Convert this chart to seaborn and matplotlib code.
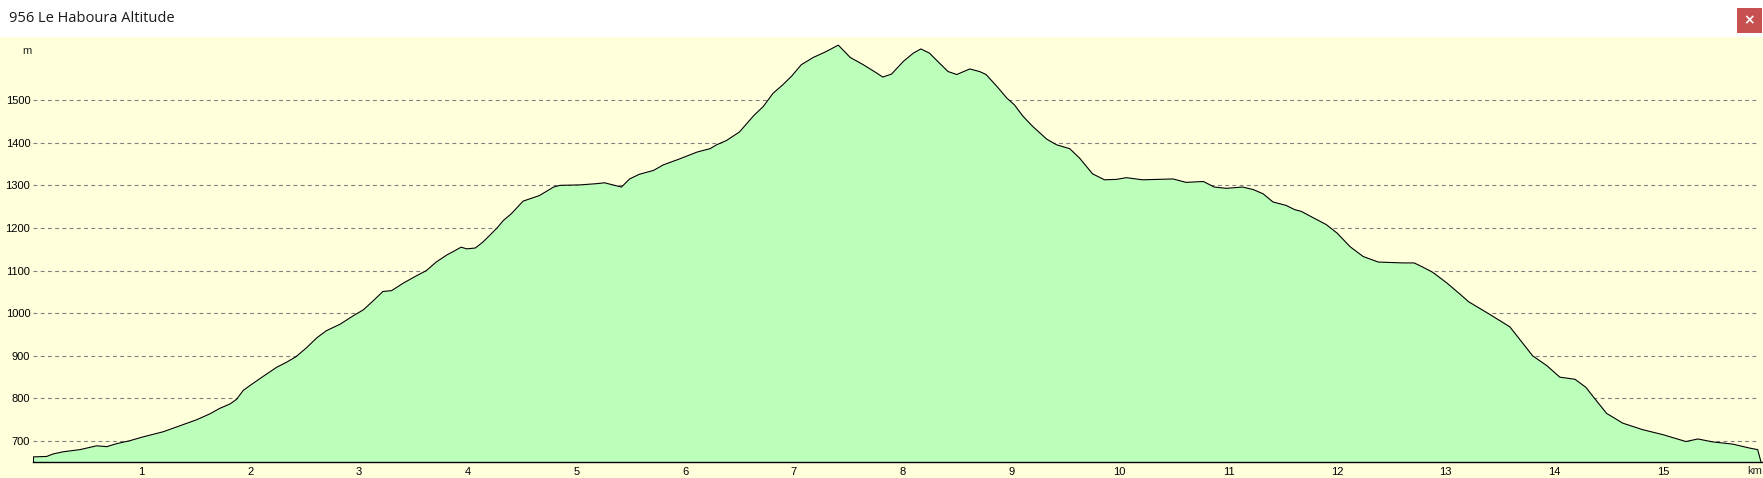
import numpy as np
import pandas as pd
import matplotlib.pyplot as plt
import seaborn as sns
from matplotlib.patches import Rectangle

# Profile: distance (km) and altitude (m)
km = [0.0, 0.126, 0.187, 0.279, 0.432, 0.586, 0.678, 0.77, 0.892, 1.0,
      1.199, 1.352, 1.505, 1.628, 1.72, 1.812, 1.873, 1.935, 2.0, 2.119,
      2.241, 2.333, 2.42, 2.517, 2.61, 2.70, 2.824, 2.947, 3.04, 3.13,
      3.22, 3.30, 3.41, 3.53, 3.62, 3.71, 3.81, 3.87, 3.94, 3.99,
      4.07, 4.14, 4.20, 4.27, 4.33, 4.40, 4.51, 4.66, 4.79, 4.85,
      5.03, 5.19, 5.26, 5.32, 5.415, 5.49, 5.58, 5.71, 5.80, 5.95,
      6.11, 6.23, 6.29, 6.38, 6.50, 6.63, 6.72, 6.81, 6.90, 6.98,
      7.07, 7.18, 7.30, 7.41, 7.52, 7.64, 7.76, 7.82, 7.90, 8.01,
      8.10, 8.17, 8.25, 8.34, 8.42, 8.50, 8.62, 8.71, 8.77, 8.87,
      8.96, 9.03, 9.11, 9.20, 9.33, 9.42, 9.54, 9.63, 9.75, 9.86,
      9.97, 10.06, 10.21, 10.34, 10.49, 10.61, 10.77, 10.87, 10.98, 11.13,
      11.23, 11.32, 11.41, 11.53, 11.61, 11.67, 11.78, 11.90, 12.00, 12.12,
      12.24, 12.38, 12.61, 12.71, 12.79, 12.88, 13.01, 13.13, 13.21, 13.40,
      13.59, 13.68, 13.80, 13.93, 14.05, 14.19, 14.29, 14.37, 14.48, 14.63,
      14.81, 15.00, 15.21, 15.32, 15.46, 15.64, 15.79, 15.87, 15.90]
altitude = [663, 664, 670, 675, 680, 689, 687, 694, 701, 709,
            722, 736, 750, 764, 777, 787, 798, 819, 831, 852,
            873, 885, 898, 919, 942, 959, 974, 994, 1008, 1029,
            1051, 1053, 1071, 1088, 1100, 1120, 1137, 1145, 1155, 1151,
            1153, 1167, 1182, 1200, 1218, 1233, 1263, 1276, 1296, 1300,
            1301, 1304, 1306, 1302, 1296, 1315, 1326, 1335, 1348, 1362,
            1378, 1386, 1395, 1405, 1425, 1463, 1485, 1516, 1536, 1556,
            1583, 1600, 1614, 1629, 1600, 1583, 1564, 1554, 1561, 1591,
            1610, 1620, 1610, 1587, 1567, 1560, 1573, 1567, 1560, 1532,
            1505, 1489, 1462, 1438, 1408, 1395, 1386, 1364, 1327, 1313,
            1314, 1318, 1313, 1314, 1315, 1307, 1309, 1296, 1293, 1296,
            1290, 1280, 1261, 1253, 1243, 1239, 1224, 1208, 1188, 1156,
            1133, 1120, 1118, 1118, 1108, 1096, 1071, 1045, 1027, 998,
            968, 939, 900, 877, 850, 845, 826, 800, 765, 742,
            727, 715, 699, 705, 698, 693, 684, 680, 652]

x_ticks = list(range(1, 16))
y_ticks = [700, 800, 900, 1000, 1100, 1200, 1300, 1400, 1500]

profile = pd.DataFrame({"km": km, "altitude": altitude})

sns.set_style("white")
plt.rcParams["font.family"] = ["Liberation Sans", "DejaVu Sans"]

W, H = 1763, 478
fig = plt.figure(figsize=(W / 100, H / 100), dpi=100)
fig.patch.set_facecolor("#FFFFDC")

# window title bar
fig.patches.append(Rectangle((0, 1 - 37 / H), 1, 37 / H, transform=fig.transFigure,
                             facecolor="white", edgecolor="none", zorder=0))
fig.text(9 / W, 1 - 18 / H, "956 Le Haboura Altitude", fontsize=10.5,
         family=["Open Sans", "DejaVu Sans"], color="#1a1a1a", va="center", ha="left")
fig.patches.append(Rectangle((1737 / W, 1 - 33 / H), 25 / W, 25 / H, transform=fig.transFigure,
                             facecolor="#C75050", edgecolor="none", zorder=1))
fig.text(1749.5 / W, 1 - 20.5 / H, "\u00d7", fontsize=10, color="white", fontweight="bold",
         ha="center", va="center", family=["DejaVu Sans"])

ax = fig.add_axes([33 / W, (H - 462) / H, (1762 - 33) / W, (462 - 37) / H])
ax.set_facecolor("#FFFFDC")

ymin = 651
ax.fill_between(profile["km"], profile["altitude"], ymin, color="#BBFFBB", linewidth=0, zorder=2)
sns.lineplot(data=profile, x="km", y="altitude", ax=ax, color="black", linewidth=0.8, zorder=3)
ax.plot([km[0], km[0]], [ymin, altitude[0]], color="black", linewidth=0.8, zorder=3)

ax.set_xlim(0, 15.91)
ax.set_ylim(ymin, 1648)

for v in y_ticks:
    ax.axhline(v, xmax=0.998, color="#808080", linewidth=0.8, linestyle=(0, (3.5, 3)), zorder=1.5)

ax.set_xticks(x_ticks)
ax.set_xticklabels([str(t) for t in x_ticks])
ax.set_yticks(y_ticks)
ax.set_yticklabels([str(t) for t in y_ticks])
ax.tick_params(axis="x", color="blue", length=3, width=1, direction="inout",
               labelsize=8, labelcolor="black", pad=2)
ax.tick_params(axis="y", length=0, labelsize=8, labelcolor="black", pad=2)

ax.set_xlabel("")
ax.set_ylabel("")
for side in ["top", "right", "left"]:
    ax.spines[side].set_visible(False)
ax.spines["bottom"].set_color("black")
ax.spines["bottom"].set_linewidth(1.0)
ax.spines["bottom"].set_zorder(4)

fig.text(27 / W, 1 - 50.5 / H, "m", fontsize=8, ha="center", va="center")
fig.text(1762 / W, 1 - 471 / H, "km", fontsize=8, ha="right", va="center")

plt.savefig("out.png", dpi=100, facecolor=fig.get_facecolor())
